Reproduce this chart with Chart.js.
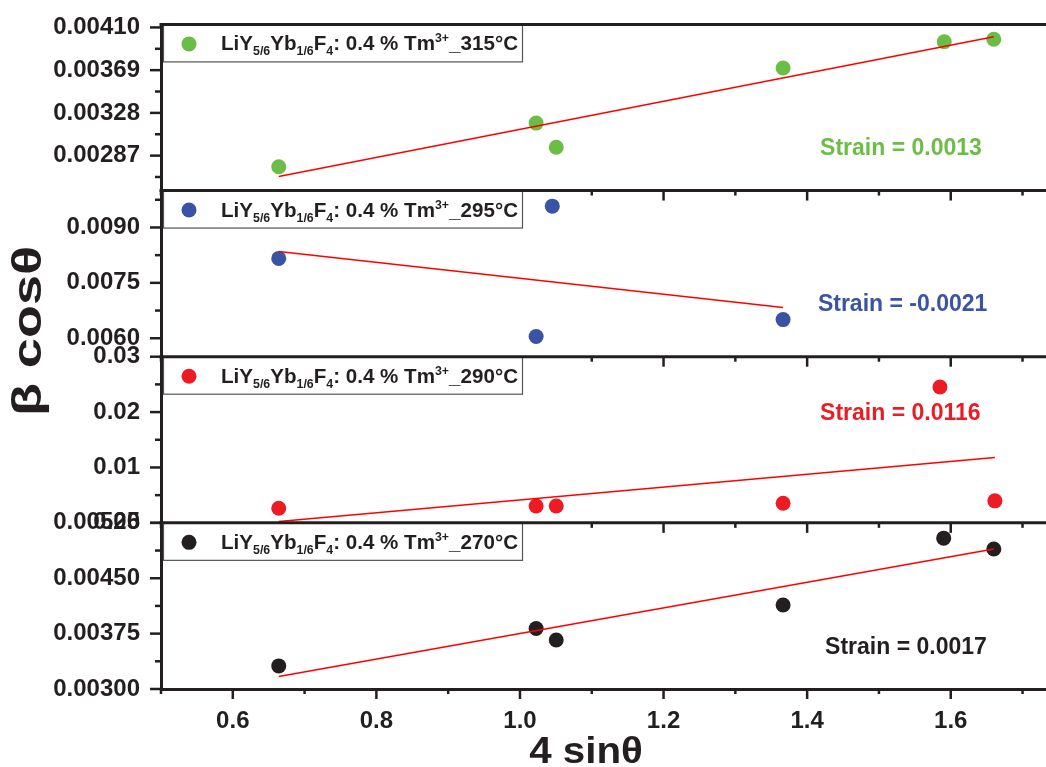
<!DOCTYPE html>
<html>
<head>
<meta charset="utf-8">
<script src="https://cdn.jsdelivr.net/npm/chart.js@4.4.0/dist/chart.umd.min.js"></script>
<style>
  html, body { margin: 0; padding: 0; background: #fff; overflow: hidden; }
  /* a little wider than the window: the right end of the frame runs off the edge, as in the figure */
  #wrap { width: 1054px; height: 767px; position: relative; }
</style>
</head>
<body>
<div id="wrap"><canvas id="draw-on-me"></canvas></div>
<script>
'use strict';

// 4 sin(theta) and beta cos(theta), one pair of lists per temperature
const x315 = [0.664, 1.0225, 1.0505, 1.3665, 1.591, 1.660];
const y315 = [0.002764, 0.003182, 0.00295, 0.003711, 0.003962, 0.003987];

const x295 = [0.664, 1.0225, 1.045, 1.3665];
const y295 = [0.008162, 0.006046, 0.009578, 0.006505];

const x290 = [0.664, 1.0225, 1.0505, 1.3665, 1.585, 1.6615];
const y290 = [0.002639, 0.003034, 0.003034, 0.003537, 0.02454, 0.003968];

const x270 = [0.664, 1.0225, 1.0505, 1.3665, 1.5902, 1.660];
const y270 = [0.003313, 0.00382, 0.003663, 0.004137, 0.005043, 0.004895];

// ends of the linear fits (Williamson-Hall)
const fitX315 = [0.664, 1.660];   const fitY315 = [0.00267, 0.00401];
const fitX295 = [0.664, 1.3665];  const fitY295 = [0.008351, 0.00683];
const fitX290 = [0.664, 1.6615];  const fitY290 = [0.000251, 0.0118];
const fitX270 = [0.664, 1.660];   const fitY270 = [0.003169, 0.004895];

// tick labels
const xTicks = [0.6, 0.8, 1.0, 1.2, 1.4, 1.6];
const ticks315 = [0.00287, 0.00328, 0.00369, 0.00410];
const ticks295 = [0.0060, 0.0075, 0.0090];
const ticks290 = [0.00, 0.01, 0.02, 0.03];
const ticks270 = [0.00300, 0.00375, 0.00450, 0.00525];

const temps = ['315°C', '295°C', '290°C', '270°C'];
const strains = ['Strain = 0.0013', 'Strain = -0.0021', 'Strain = 0.0116', 'Strain = 0.0017'];

const ink = '#231f20';
const fontFam = "'Liberation Sans', Arial, Helvetica, sans-serif";
const xMax = 1.7334;

// one entry per stacked panel, top to bottom
const panels = [
  { id: 'y315', xs: x315, ys: y315, fx: fitX315, fy: fitY315, ticks: ticks315, min: 0.002535, max: 0.004129, dp: 5, color: '#6abd45', at: [1.418, 0.00294] },
  { id: 'y295', xs: x295, ys: y295, fx: fitX295, fy: fitY295, ticks: ticks295, min: 0.0055, max: 0.0100, dp: 4, color: '#3a53a4', at: [1.415, 0.0069] },
  { id: 'y290', xs: x290, ys: y290, fx: fitX290, fy: fitY290, ticks: ticks290, min: 0, max: 0.03, dp: 2, color: '#ed1c24', at: [1.418, 0.01977] },
  { id: 'y270', xs: x270, ys: y270, fx: fitX270, fy: fitY270, ticks: ticks270, min: 0.0030, max: 0.00525, dp: 5, color: ink, at: [1.425, 0.003565] }
];

function pairs (xs, ys) {
  return xs.map((x, i) => ({ x: x, y: ys[i] }));
}

// minor ticks halfway between the major ones, one step past each end if it fits
function minorTicks (major, min, max) {
  const out = [];
  const step = major[1] - major[0];
  for (let v = major[0] - step / 2; v <= max + 1e-12; v += step) {
    if (v >= min - 1e-12) out.push(v);
  }
  return out;
}

const datasets = [];
panels.forEach((p, i) => {
  datasets.push({
    label: 'fit ' + temps[i],
    data: pairs(p.fx, p.fy),
    yAxisID: p.id,
    showLine: true,
    borderColor: '#ff0000',
    borderWidth: 1.5,
    pointRadius: 0,
    order: 0
  });
  datasets.push({
    label: temps[i],
    data: pairs(p.xs, p.ys),
    yAxisID: p.id,
    showLine: false,
    pointRadius: 7.5,
    pointBackgroundColor: p.color,
    pointBorderWidth: 0,
    order: 1
  });
});

const scales = {
  x: {
    type: 'linear',
    min: 0.5,
    max: xMax,
    grid: { display: false, drawTicks: true, tickLength: 10 },
    border: { display: true, width: 3, color: ink },
    afterBuildTicks: s => { s.ticks = xTicks.map(v => ({ value: v })); },
    afterFit: s => { s.height = 78; },
    ticks: {
      autoSkip: false, maxRotation: 0, padding: 8, color: ink,
      font: { family: fontFam, size: 24, weight: 'bold' },
      callback: v => Number(v).toFixed(1)
    }
  }
};

panels.forEach((p, i) => {
  scales[p.id] = {
    type: 'linear',
    position: 'left',
    stack: 'panels',
    stackWeight: 1,
    weight: panels.length - i,
    min: p.min,
    max: p.max,
    grid: { display: false, drawTicks: true, tickLength: 11 },
    border: { display: true, width: 3, color: ink },
    afterBuildTicks: s => { s.ticks = p.ticks.map(v => ({ value: v })); },
    afterFit: s => { s.width = 161; },
    ticks: {
      autoSkip: false, padding: 10, color: ink,
      font: { family: fontFam, size: 24, weight: 'bold' },
      callback: v => Number(v).toFixed(p.dp)
    }
  };
});

// legend label with sub- and superscripts, stretched to the width it has in the figure
function drawLegendText (ctx, x, y, temp, width) {
  const parts = [
    ['LiY', 0], ['5/6', 1], ['Yb', 0], ['1/6', 1], ['F', 0], ['4', 1],
    [': 0.4 % Tm', 0], ['3+', -1], ['_' + temp, 0]
  ];
  const fontOf = kind => kind === 0 ? `bold 20px ${fontFam}` : `bold 12px ${fontFam}`;
  let total = 0;
  parts.forEach(([t, kind]) => { ctx.font = fontOf(kind); total += ctx.measureText(t).width; });
  ctx.save();
  ctx.translate(x, y);
  ctx.scale(width / total, 1);
  let cx = 0;
  parts.forEach(([t, kind]) => {
    ctx.font = fontOf(kind);
    const dy = kind === 1 ? 5 : kind === -1 ? -8 : 0;
    ctx.fillText(t, cx, dy);
    cx += ctx.measureText(t).width;
  });
  ctx.restore();
}

const decor = {
  id: 'decor',
  afterDraw (chart) {
    const ctx = chart.ctx;
    const xs = chart.scales.x;
    const left = chart.chartArea.left;
    const right = chart.chartArea.right;
    const line = (x1, y1, x2, y2) => {
      ctx.beginPath(); ctx.moveTo(x1, y1); ctx.lineTo(x2, y2); ctx.stroke();
    };
    const xMinor = minorTicks(xTicks, 0.5, xMax);

    ctx.save();
    panels.forEach((p, i) => {
      const ys = chart.scales[p.id];

      // legend box
      const bx = left + 2, by = ys.top + 0.5, bw = 359, bh = 37;
      ctx.fillStyle = '#fff';
      ctx.fillRect(bx, by, bw, bh);
      ctx.strokeStyle = '#555';
      ctx.lineWidth = 1.2;
      ctx.strokeRect(bx + 0.5, by, bw, bh);
      ctx.fillStyle = p.color;
      ctx.beginPath();
      ctx.arc(bx + 26, by + 19, 7.5, 0, Math.PI * 2);
      ctx.fill();
      ctx.fillStyle = ink;
      ctx.textAlign = 'left';
      ctx.textBaseline = 'alphabetic';
      drawLegendText(ctx, bx + 58, by + 25.5, temps[i], 297);

      // strain note
      ctx.fillStyle = p.color;
      ctx.font = `bold 23px ${fontFam}`;
      ctx.textBaseline = 'middle';
      ctx.fillText(strains[i], xs.getPixelForValue(p.at[0]), ys.getPixelForValue(p.at[1]));

      // frame line on top of the panel
      ctx.strokeStyle = ink;
      ctx.lineWidth = 3;
      line(left - 1.5, ys.top, right, ys.top);

      // y ticks, outward
      ctx.lineWidth = 2.5;
      p.ticks.forEach(v => {
        const y = ys.getPixelForValue(v);
        line(left - 11, y, left, y);
      });
      minorTicks(p.ticks, p.min, p.max).forEach(v => {
        const y = ys.getPixelForValue(v);
        line(left - 6, y, left, y);
      });

      // x ticks hanging from the bottom of every panel
      xTicks.forEach(v => {
        const x = xs.getPixelForValue(v);
        line(x, ys.bottom, x, ys.bottom + 10);
      });
      xMinor.forEach(v => {
        const x = xs.getPixelForValue(v);
        line(x, ys.bottom, x, ys.bottom + 5);
      });
    });

    // axis titles
    ctx.fillStyle = ink;
    ctx.textAlign = 'center';
    ctx.textBaseline = 'alphabetic';
    ctx.font = `bold 36px ${fontFam}`;
    ctx.save();
    ctx.translate(586, 763);
    ctx.scale(1.12, 1);
    ctx.fillText('4 sinθ', 0, 0);
    ctx.restore();

    ctx.translate(30, 331);
    ctx.rotate(-Math.PI / 2);
    ctx.scale(1.35, 1);
    ctx.font = `bold 40px ${fontFam}`;
    ctx.textBaseline = 'middle';
    ctx.fillText('β cosθ', 0, 0);
    ctx.restore();
  }
};

const canvasElement = document.getElementById('draw-on-me').getContext('2d');

new Chart(canvasElement, {
  type: 'scatter',
  data: { datasets: datasets },
  options: {
    responsive: true,
    maintainAspectRatio: false,
    animation: false,
    layout: { padding: { top: 22, left: 0, right: 0, bottom: 0 } },
    plugins: { legend: { display: false }, tooltip: { enabled: false } },
    scales: scales
  },
  plugins: [decor]
});
</script>
</body>
</html>
